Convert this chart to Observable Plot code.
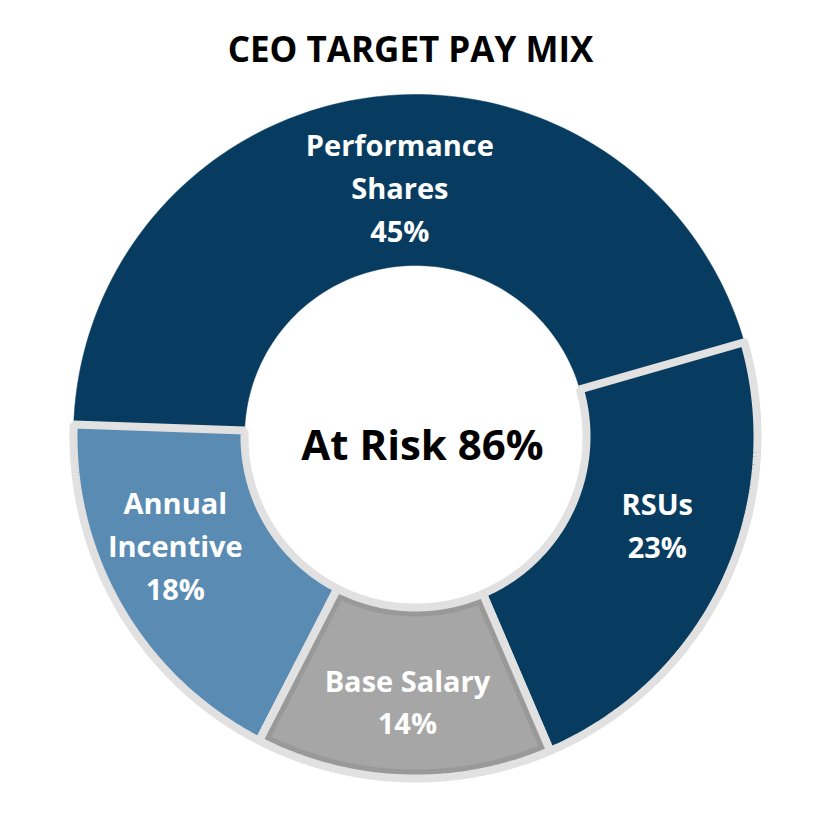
<!DOCTYPE html>
<html>
<head>
<meta charset="utf-8">
<script src="https://cdn.jsdelivr.net/npm/d3@7"></script>
<script src="https://cdn.jsdelivr.net/npm/@observablehq/plot@0.6"></script>
<style>
  html, body { margin: 0; padding: 0; background: #ffffff; }
  #title { height: 90px; width: 836px; box-sizing: border-box; padding-right: 15px; text-align: center;
           font: bold 35px "Open Sans", sans-serif; line-height: 98px; color: #000; overflow: visible; }
  #chart svg { display: block; }
</style>
</head>
<body>
<div id="title"></div>
<div id="chart"></div>
<script>
// ---- data ----
const title = "CEO TARGET PAY MIX";
const categories = ["Performance Shares", "RSUs", "Base Salary", "Annual Incentive"];
const labelText = ["Performance\nShares", "RSUs", "Base Salary", "Annual\nIncentive"];
const values = [45, 23, 14, 18];
const centerLabel = "At Risk 86%";

// ---- style ----
const palette = ["#073c60", "#073c60", "#a6a6a6", "#5a8bb3"];
const edge = "#e1e1e1";
const baseInner = "#999999";
// small pixel nudges of the slice labels away from their mid-angle anchor
const labelNudge = [[16, 7], [7, -25], [1, 3], [-16, -25]];

document.getElementById("title").textContent = title;

const W = 836, H = 725;
const cx = 415, cy = 346, R = 342;      // pixel geometry of the ring
const innerFrac = 0.5;
const startDeg = -88;                   // compass angle where the first slice starts

const total = d3.sum(values);
let acc = startDeg;
const slices = categories.map((c, i) => {
  const a0 = acc, a1 = acc + values[i] / total * 360;
  acc = a1;
  return {name: c, value: values[i], a0, a1, color: palette[i], nudge: labelNudge[i],
          label: labelText[i] + "\n" + values[i] + "%"};
});

const rad = (deg) => deg * Math.PI / 180;
function ring(s, rOut, rIn, insetPx = 0) {
  const pts = [];
  const n = 120;
  const dOut = (insetPx / (rOut * R)) * 180 / Math.PI;
  const dIn = (insetPx / (rIn * R)) * 180 / Math.PI;
  for (let k = 0; k <= n; k++) {
    const a = (s.a0 + dOut) + ((s.a1 - dOut) - (s.a0 + dOut)) * k / n;
    pts.push({name: s.name, color: s.color, x: rOut * Math.sin(rad(a)), y: rOut * Math.cos(rad(a))});
  }
  for (let k = n; k >= 0; k--) {
    const a = (s.a0 + dIn) + ((s.a1 - dIn) - (s.a0 + dIn)) * k / n;
    pts.push({name: s.name, color: s.color, x: rIn * Math.sin(rad(a)), y: rIn * Math.cos(rad(a))});
  }
  pts.push({...pts[0]});
  return pts;
}

const perf = slices.filter(s => s.name === "Performance Shares").flatMap(s => ring(s, 1, innerFrac));
const others = slices.filter(s => s.name === "RSUs" || s.name === "Annual Incentive").flatMap(s => ring(s, 1, innerFrac));
const baseS = slices.filter(s => s.name === "Base Salary");
const baseOuter = baseS.flatMap(s => ring(s, 1, innerFrac));
const baseCore = baseS.flatMap(s => ring(s, 1 - 9 / R, innerFrac + 9 / R, 9));

const labelR = 0.76;
const labels = slices.map(s => {
  const m = rad((s.a0 + s.a1) / 2);
  return {label: s.label,
          x: labelR * Math.sin(m) + s.nudge[0] / R,
          y: labelR * Math.cos(m) - s.nudge[1] / R};
});

const chart = Plot.plot({
  width: W,
  height: H,
  margin: 0,
  x: {domain: [-cx / R, (W - cx) / R], axis: null},
  y: {domain: [-(H - cy) / R, cy / R], axis: null},
  color: {type: "identity"},
  style: {background: "#ffffff", fontFamily: "'Open Sans', sans-serif"},
  marks: [
    Plot.line(perf, {x: "x", y: "y", z: "name", fill: "color", stroke: "color", strokeWidth: 0.5, curve: "linear"}),
    Plot.line(others, {x: "x", y: "y", z: "name", fill: "color", stroke: edge, strokeWidth: 8, strokeLinejoin: "miter", curve: "linear"}),
    Plot.line(baseOuter, {x: "x", y: "y", z: "name", fill: baseInner, stroke: edge, strokeWidth: 8, strokeLinejoin: "miter", curve: "linear"}),
    Plot.line(baseCore, {x: "x", y: "y", z: "name", fill: "color", stroke: "none", curve: "linear"}),
    Plot.text(labels, {x: "x", y: "y", text: "label", fill: "#ffffff", fontSize: 29, fontWeight: "bold", lineHeight: 1.48, lineAnchor: "middle"}),
    Plot.text([centerLabel], {x: () => 0, y: () => 0, text: d => d, fill: "#000000", fontSize: 42, fontWeight: "bold", lineAnchor: "middle", dx: 7, dy: 10})
  ]
});
document.getElementById("chart").appendChild(chart);
</script>
</body>
</html>
